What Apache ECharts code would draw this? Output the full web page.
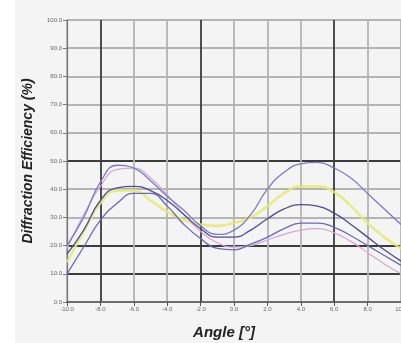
<!DOCTYPE html>
<html>
<head>
<meta charset="utf-8">
<script src="https://cdn.jsdelivr.net/npm/echarts@6/dist/echarts.min.js"></script>
<style>
  html, body { margin: 0; padding: 0; background: #fff; }
  #chart { width: 401px; height: 343px; }
</style>
</head>
<body>
<div id="chart"></div>
<script>
// angle in degrees
const angles = [-10, -9, -8, -7, -6, -5, -4, -3, -2, -1, 0, 1, 2, 3, 4, 5, 6, 7, 8, 9, 10];

// diffraction efficiency (%) per curve
const lavender = [20, 30, 42.5, 48.5, 47.5, 43, 37.5, 32.5, 27, 24, 25.5, 31, 40, 46, 49, 49.5, 47.5, 44, 38.5, 33, 27.5];
const yellow   = [14, 25, 35, 39.5, 39.5, 36, 32, 29, 27.5, 27, 28, 30, 34, 38.5, 41, 41, 39, 34, 28, 23, 19];
const navy     = [17, 25.5, 36, 40.5, 41, 39.5, 36, 31, 26, 23, 23, 25.5, 29.5, 33, 34.5, 34, 31.5, 27.5, 23, 18.5, 14.5];
const blue     = [10, 19.5, 29, 35, 38.5, 38.5, 34, 27.5, 22.5, 19, 18.5, 20.5, 23, 26, 28, 28, 26.5, 23.5, 20, 16.5, 13];
const pink     = [19, 31, 41, 47, 47.5, 44, 38, 31, 25, 21, 19.5, 20, 22, 24, 25.5, 26, 24.5, 21.5, 17.5, 13.5, 10];

const GRAY = '#b4b4b4';
const DARK = '#3c3c3c';
// one colour per grid line, -10 .. 10 step 2
const xLineColors = [GRAY, DARK, GRAY, GRAY, DARK, GRAY, GRAY, GRAY, DARK, GRAY, GRAY];
// 0 .. 100 step 10
const yLineColors = [GRAY, DARK, DARK, GRAY, GRAY, DARK, GRAY, GRAY, GRAY, GRAY, GRAY];

function pairs(vals) {
    return angles.map((a, i) => [a, vals[i]]);
}

function curve(vals, color, width, opacity) {
    return {
        type: 'line',
        data: pairs(vals),
        smooth: true,
        symbol: 'none',
        lineStyle: { color: color, width: width, opacity: opacity }
    };
}

const chart = echarts.init(document.getElementById('chart'));

chart.setOption({
    backgroundColor: '#f4f4f4',
    animation: false,
    graphic: [{
        type: 'rect',
        shape: { x: 0, y: 0, width: 15, height: 343 },
        style: { fill: '#ffffff' },
        z: -1
    }],
    grid: { left: 67, right: 0, top: 20, bottom: 41, outerBoundsMode: 'none', containLabel: false },
    xAxis: {
        type: 'value',
        min: -10,
        max: 10,
        interval: 2,
        name: 'Angle [°]',
        nameLocation: 'middle',
        nameGap: 23,
        nameTextStyle: {
            fontFamily: 'Liberation Sans',
            fontSize: 15,
            fontWeight: 'bold',
            fontStyle: 'italic',
            color: '#222',
            padding: [0, 20, 0, 0]
        },
        axisLine: { onZero: false, lineStyle: { color: '#555', width: 1.5 } },
        axisTick: { show: true, length: 4, lineStyle: { color: '#555' } },
        axisLabel: {
            fontSize: 6,
            color: '#666',
            margin: 4,
            formatter: v => v.toFixed(1)
        },
        splitLine: { show: true, lineStyle: { color: xLineColors, width: 1.8 } }
    },
    yAxis: {
        type: 'value',
        min: 0,
        max: 100,
        interval: 10,
        name: 'Diffraction Efficiency (%)',
        nameLocation: 'middle',
        nameGap: 32,
        nameTextStyle: {
            fontFamily: 'Liberation Sans',
            fontSize: 14,
            fontWeight: 'bold',
            fontStyle: 'italic',
            color: '#222'
        },
        axisLine: { show: true, onZero: false, lineStyle: { color: '#777', width: 1.2 } },
        axisTick: { show: true, length: 4, lineStyle: { color: '#777' } },
        axisLabel: {
            fontSize: 6,
            color: '#666',
            margin: 5,
            formatter: v => v.toFixed(1)
        },
        splitLine: { show: true, lineStyle: { color: yLineColors, width: 1.8 } }
    },
    series: [
        curve(yellow, '#e6ea70', 2.6, 0.85),
        curve(pink, '#d6a6d6', 1.2, 1),
        curve(blue, '#6a6ab8', 1.3, 1),
        curve(navy, '#4c4c98', 1.3, 1),
        curve(lavender, '#7c7cc6', 1.3, 1)
    ]
});
</script>
</body>
</html>
